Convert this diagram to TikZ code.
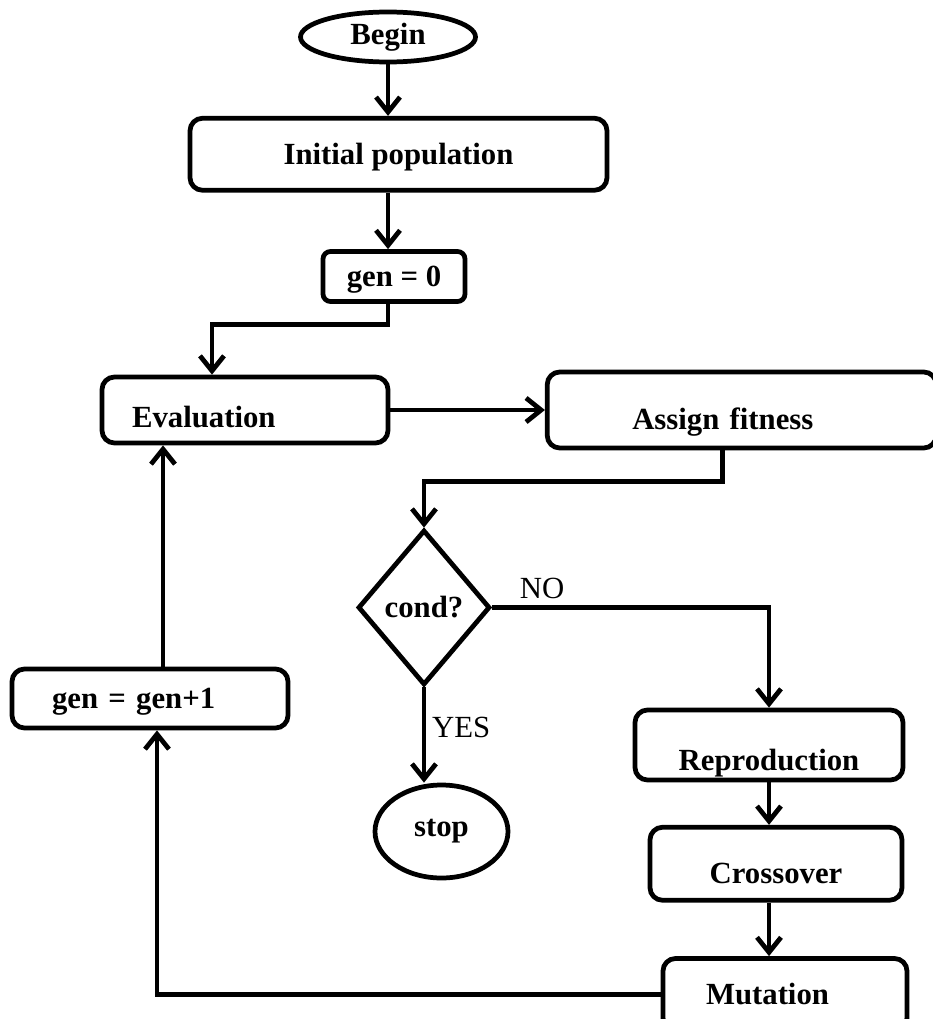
\documentclass[tikz,border=0pt]{standalone}
\usepackage{fontspec}
\setmainfont{Liberation Serif}
\usetikzlibrary{positioning}
\usetikzlibrary{shapes,arrows.meta}

\begin{document}
\begin{tikzpicture}[
	line width=2.7pt,
	>={Straight Barb[length=3mm,width=4.8mm]},
	font=\bfseries\fontsize{17.5}{20}\selectfont,
	block/.style={draw, rounded corners=0.25cm, inner sep=0pt, text height=#1, text depth=0.1cm},
	block/.default=0.51cm,
	term/.style={draw, ellipse, inner sep=0pt},
	decision/.style={draw, diamond, inner sep=0pt},
	lbl/.style={font=\fontsize{17.5}{20}\selectfont}
	]
	\useasboundingbox (0,0) rectangle (18.64,-20.38);

	\node[term] (begin) [minimum width=3.5cm, minimum height=1cm] at (7.76,-0.74) {Begin};
	\node[block] (init) [below=1.03cm of begin, xshift=0.21cm, minimum width=8.34cm, minimum height=1.44cm] {Initial population};
	\node[block] (gen0) [below=1.13cm of init, xshift=-0.09cm, minimum width=2.84cm, minimum height=1cm, rounded corners=0.15cm] {gen = 0};

	\node[block=0.79cm] (eval) [text width=4.52cm, align=left, inner xsep=0.6cm, minimum height=1.32cm] at (4.90,-8.20) {Evaluation};
	\node[block=0.87cm] (assign) [right=3.09cm of eval, text width=4.38cm, align=left, inner xsep=1.7cm, minimum height=1.52cm] {Assign fitness};

	\node[decision] (cond) [minimum width=2.64cm, minimum height=3.1cm] at (8.48,-12.15) {cond?};
	\node[term] (stop) [minimum width=2.66cm, minimum height=1.86cm] at (8.83,-16.63) {stop};

	\node[block=1.11cm] (repro) [minimum width=5.36cm, minimum height=1.4cm] at (15.38,-14.90) {Reproduction};
	\node[block=0.87cm] (cross) [below=0.85cm of repro, xshift=0.14cm, minimum width=5.04cm, minimum height=1.46cm] {Crossover};
	\node[block] (mut) [below=1.07cm of cross, xshift=0.18cm, text width=3.16cm, align=left, inner xsep=0.86cm, minimum height=1.44cm] {Mutation};

	\node[block] (gen1) [text width=3.92cm, align=left, inner xsep=0.8cm, minimum height=1.18cm] at (3.00,-13.97) {gen = gen+1};


	\path[draw, ->] (begin) -- (begin |- init.north);
	\path[draw, ->] (init.south -| begin) -- (gen0.north -| begin);
	\path[draw, ->] (gen0.south -| begin) -- ++(0,-0.42) -| ([xshift=-0.66cm]eval.north);

	\path[draw, ->] (eval) -- (assign);
	\path[draw, ->] ([xshift=-0.38cm]assign.south) -- ++(0,-0.62) -| (cond.north);

	\path[draw, ->] (cond.east) -| node[lbl, pos=0.09, above] {NO} (repro.north);
	\path[draw, ->] (cond.south) -- node[lbl, pos=0.42, right] {YES} (cond.south |- stop.north);

	\path[draw, ->] (repro.south) -- (repro.south |- cross.north);
	\path[draw, ->] (cross.south -| repro) -- (repro |- mut.north);

	\path[draw, ->] (mut.west) -| ([xshift=0.14cm]gen1.south);
	\path[draw, ->] ([xshift=0.26cm]gen1.north) -- ([xshift=0.26cm]gen1.north |- eval.south);

\end{tikzpicture}
\end{document}
